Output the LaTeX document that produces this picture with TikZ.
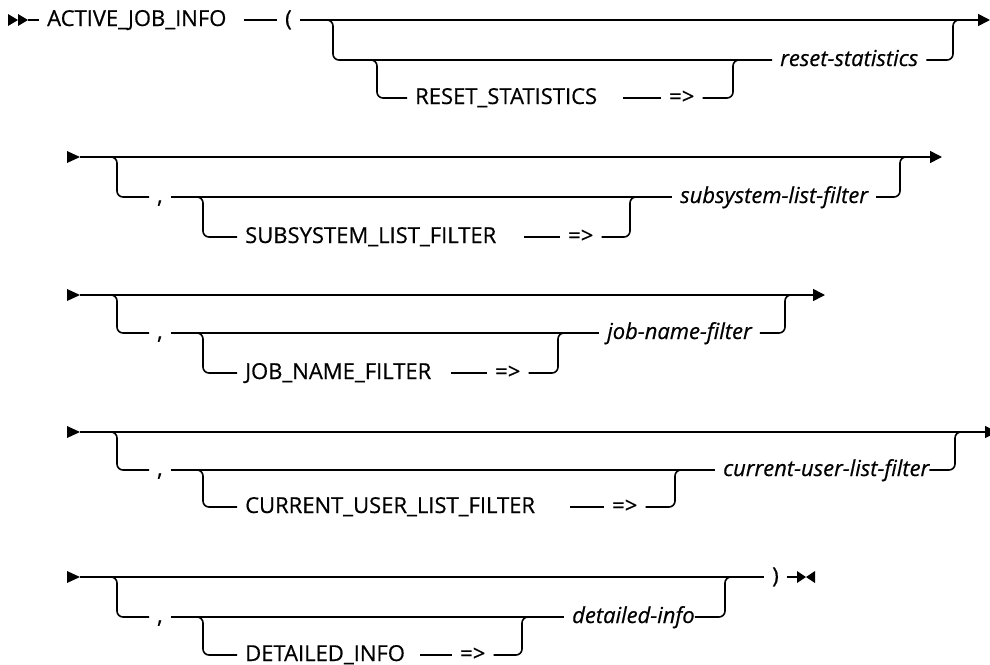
\documentclass[tikz,border=0pt]{standalone}
\usepackage{fontspec}
\setmainfont{Open Sans}[UprightFeatures={FakeBold=0.5}, ItalicFeatures={FakeBold=0.5}]
\usepackage{tikz}
\usetikzlibrary{arrows.meta}
\tikzstyle{rail}=[line width=1.6pt, rounded corners=6pt]
\tikzstyle{kw}=[anchor=west, inner xsep=8pt, inner ysep=0pt, text height=12pt, text depth=0pt,% text sits on the rail
font=\fontsize{22}{24}\selectfont]
\tikzstyle{var}=[kw, font=\fontsize{22}{24}\selectfont\itshape]
\tikzstyle{endarr}=[-{Triangle[length=12pt,width=12pt]}]
\begin{document}
\begin{tikzpicture}[x=1pt,y=-1pt]
\useasboundingbox (0,0) rectangle (990,664);
% row 1
\fill (8,14) -- (18,20) -- (8,26) -- cycle;
\fill (18,14) -- (28,20) -- (18,26) -- cycle;
\coordinate (s1) at (28,20);
\node[kw] (active) at (39,20) {ACTIVE\_JOB\_INFO};
\node[kw] (lpar) at (277,20) {(};
\node[var] (rs) at (772,60) {reset-statistics};
\node[kw] (kwReset) at (407,98) {RESET\_STATISTICS};
\node[kw] (op1) at (661,98) {=>};
\coordinate (d1) at (333,20);
\coordinate (d2) at (377,60);
\coordinate (u1) at (953,20);
\coordinate (u2) at (733,60);
\coordinate (e1) at (990,20);
\draw[rail] (s1) -- (active.west);
\draw[rail, shorten <=9pt] (active.east) -- (lpar.west);
\draw[rail, endarr] (lpar.east) -- (e1);
\draw[rail] ([xshift=-8pt]d1) -- (d1) |- (rs.west);
\draw[rail] ([xshift=-8pt]d2) -- (d2) |- (kwReset.west);
\draw[rail, shorten <=18pt] (kwReset.east) -- (op1.west);
\draw[rail] (op1.east) -| (u2) -- ([xshift=8pt]u2);
\draw[rail] (rs.east) -| (u1) -- ([xshift=8pt]u1);
% row 2
\fill (67,151) -- (80,157) -- (67,163) -- cycle;
\coordinate (b2) at (80,157);
\node[kw] (c2) at (149,197) {,};
\node[var] (ssf) at (672,197) {subsystem-list-filter};
\node[kw] (kwSub) at (237,237) {SUBSYSTEM\_LIST\_FILTER};
\node[kw] (op2) at (560,237) {=>};
\coordinate (d3) at (117,157);
\coordinate (d4) at (203,197);
\coordinate (u3) at (900,157);
\coordinate (u4) at (630,197);
\coordinate (e2) at (942,157);
\draw[rail, endarr] (b2) -- (e2);
\draw[rail] ([xshift=-8pt]d3) -- (d3) |- (c2.west);
\draw[rail] (c2.east) -- (ssf.west);
\draw[rail] ([xshift=-8pt]d4) -- (d4) |- (kwSub.west);
\draw[rail, shorten <=20pt] (kwSub.east) -- (op2.west);
\draw[rail] (op2.east) -| (u4) -- ([xshift=8pt]u4);
\draw[rail] (ssf.east) -| (u3) -- ([xshift=8pt]u3);
% row 3
\fill (67,289) -- (80,295) -- (67,301) -- cycle;
\coordinate (b3) at (80,295);
\node[kw] (c3) at (149,333) {,};
\node[var] (jnf) at (599,333) {job-name-filter};
\node[kw] (kwJob) at (237,373) {JOB\_NAME\_FILTER};
\node[kw] (op3) at (487,373) {=>};
\coordinate (d5) at (117,295);
\coordinate (d6) at (203,333);
\coordinate (u5) at (785,295);
\coordinate (u6) at (558,333);
\coordinate (e3) at (825,295);
\draw[rail, endarr] (b3) -- (e3);
\draw[rail] ([xshift=-8pt]d5) -- (d5) |- (c3.west);
\draw[rail] (c3.east) -- (jnf.west);
\draw[rail] ([xshift=-8pt]d6) -- (d6) |- (kwJob.west);
\draw[rail, shorten <=12pt] (kwJob.east) -- (op3.west);
\draw[rail] (op3.east) -| (u6) -- ([xshift=8pt]u6);
\draw[rail] (jnf.east) -| (u5) -- ([xshift=8pt]u5);
% row 4
\fill (67,426) -- (80,432) -- (67,438) -- cycle;
\coordinate (b4) at (80,432);
\node[kw] (c4) at (149,470) {,};
\node[var] (culf) at (715,470) {current-user-list-filter};
\node[kw] (kwCur) at (237,507) {CURRENT\_USER\_LIST\_FILTER};
\node[kw] (op4) at (604,507) {=>};
\coordinate (d7) at (117,432);
\coordinate (d8) at (203,470);
\coordinate (u7) at (955,432);
\coordinate (u8) at (675,470);
\coordinate (e4) at (997,432);
\draw[rail, endarr] (b4) -- (e4);
\draw[rail] ([xshift=-8pt]d7) -- (d7) |- (c4.west);
\draw[rail] (c4.east) -- (culf.west);
\draw[rail] ([xshift=-8pt]d8) -- (d8) |- (kwCur.west);
\draw[rail, shorten <=27pt] (kwCur.east) -- (op4.west);
\draw[rail] (op4.east) -| (u8) -- ([xshift=8pt]u8);
\draw[rail] ([xshift=-8pt]culf.east) -| (u7) -- ([xshift=8pt]u7);
% row 5
\fill (67,571) -- (80,577) -- (67,583) -- cycle;
\coordinate (b5) at (80,577);
\node[kw] (c5) at (149,617) {,};
\node[var] (dinf) at (564,617) {detailed-info};
\node[kw] (kwDet) at (237,655) {DETAILED\_INFO};
\node[kw] (op5) at (452,655) {=>};
\node[kw] (rpar) at (764,577) {)};
\coordinate (d9) at (117,577);
\coordinate (d10) at (203,617);
\coordinate (u9) at (725,577);
\coordinate (u10) at (522,617);
\coordinate (f5) at (797,577);
\draw[rail] (b5) -- (rpar.west);
\draw[rail] (rpar.east) -- (f5);
\fill (797,571) -- (806,577) -- (797,583) -- cycle;
\fill (815,571) -- (806,577) -- (815,583) -- cycle;
\draw[rail] ([xshift=-8pt]d9) -- (d9) |- (c5.west);
\draw[rail] (c5.east) -- (dinf.west);
\draw[rail] ([xshift=-8pt]d10) -- (d10) |- (kwDet.west);
\draw[rail, shorten <=7pt] (kwDet.east) -- (op5.west);
\draw[rail] (op5.east) -| (u10) -- ([xshift=8pt]u10);
\draw[rail] ([xshift=-8pt]dinf.east) -| (u9) -- ([xshift=8pt]u9);
\end{tikzpicture}
\end{document}
